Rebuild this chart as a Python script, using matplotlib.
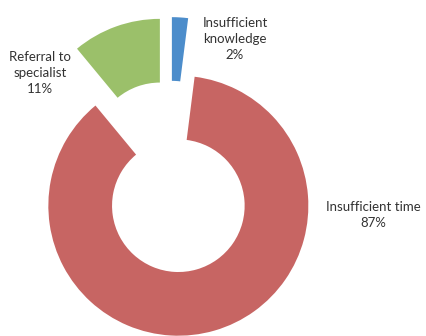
import matplotlib
matplotlib.use("Agg")
import matplotlib.pyplot as plt

categories = ["Insufficient knowledge", "Insufficient time", "Referral to specialist"]
label_text = ["Insufficient\nknowledge", "Insufficient time", "Referral to\nspecialist"]
values = [2, 87, 11]
colors = ["#4C8DCB", "#C76563", "#9BC06A"]

W, H = 427, 336
cx, cy, R = 170, 177, 130  # pixel centre and radius

fig = plt.figure(figsize=(W / 100, H / 100), dpi=100)
ax = fig.add_axes([0, 0, 1, 1])

ax.pie(values, colors=colors, startangle=90, counterclock=False,
       explode=[0.23] * len(values), radius=1.0,
       wedgeprops=dict(width=0.49, edgecolor="none"))

ax.set_xlim(-cx / R, (W - cx) / R)
ax.set_ylim(-(H - cy) / R, cy / R)
ax.set_aspect("equal")
ax.axis("off")

def px(x, y):
    return (x - cx) / R, (cy - y) / R

label_pos = [px(235, 39), px(373, 215), px(40, 73)]
for name, v, (lx, ly) in zip(label_text, values, label_pos):
    ax.text(lx, ly, f"{name}\n{v}%", ha="center", va="center",
            fontsize=9.5, color="#333333", family="Lato", linespacing=1.4)

fig.savefig("out.png", dpi=100)
